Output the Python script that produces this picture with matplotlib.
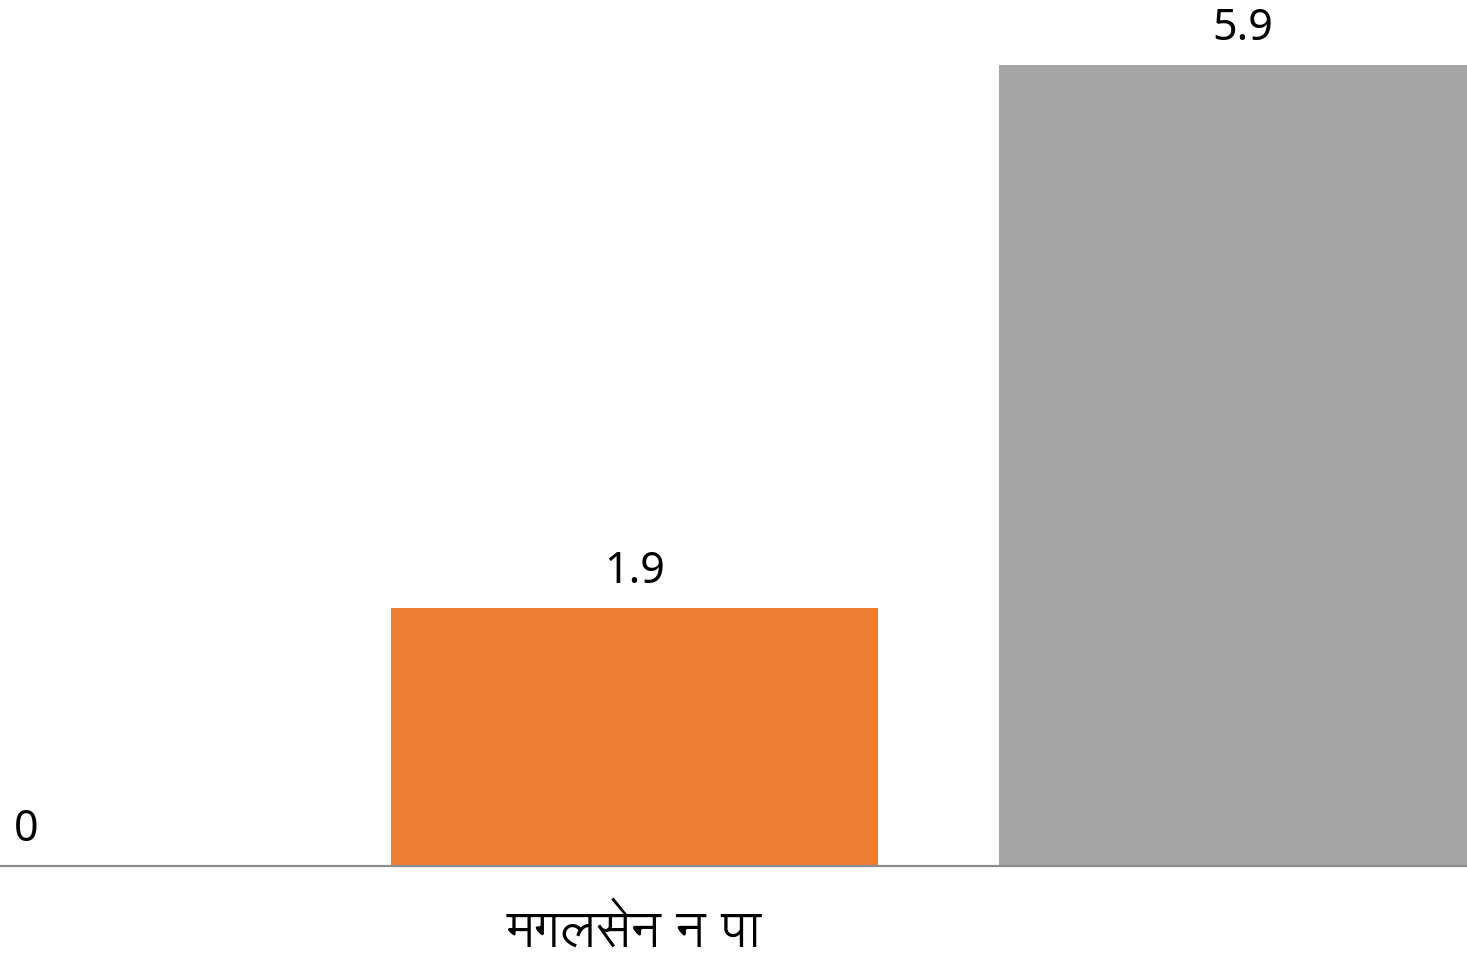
import os
import matplotlib
matplotlib.use("Agg")
from matplotlib import pyplot as plt
from matplotlib import font_manager

category = "मगलसेन न पा"
series_values = [0, 1.9, 5.9]
series_colors = ["#4472c4", "#ed7d31", "#a5a5a5"]

# Devanagari font for the category label
deva_candidates = [
    "/usr/share/fonts/truetype/google-fonts/Lohit-Devanagari.ttf",
    "/usr/share/fonts/truetype/google-fonts/NotoSansDevanagari-Regular.ttf",
    "/usr/share/fonts/truetype/freefont/FreeSans.ttf",
]
deva_path = next((p for p in deva_candidates if os.path.exists(p)), None)

plt.rcParams['font.family'] = ['Noto Sans', 'DejaVu Sans']

fig = plt.figure(figsize=(14.67, 9.56), dpi=100)
ax = fig.add_axes([0, 90 / 956, 1, 866 / 956])

positions = [-1, 0, 1]
width = 487 / 608
ax.bar(positions, series_values, width=width, color=series_colors, zorder=2)

for x, v in zip(positions, series_values):
    ax.text(x, v + 0.184, f"{v:g}", ha='center', va='baseline', fontsize=31, color='black')

ax.set_xlim((0 - 634.5) / 608, (1467 - 634.5) / 608)
ax.set_ylim(0, 866 / 135.7)

for side in ['top', 'right', 'left']:
    ax.spines[side].set_visible(False)
ax.spines['bottom'].set_color('#8c8c8c')
ax.spines['bottom'].set_linewidth(1.6)
ax.set_yticks([])
ax.set_xticks([])

if deva_path:
    label_font = font_manager.FontProperties(fname=deva_path, size=36.5)
else:
    label_font = font_manager.FontProperties(family='DejaVu Sans', size=36.5)
fig.text(634.5 / 1467, 1 - 947 / 956, category, ha='center', va='baseline',
         fontproperties=label_font, color='black')

fig.savefig("out.png", dpi=100)
